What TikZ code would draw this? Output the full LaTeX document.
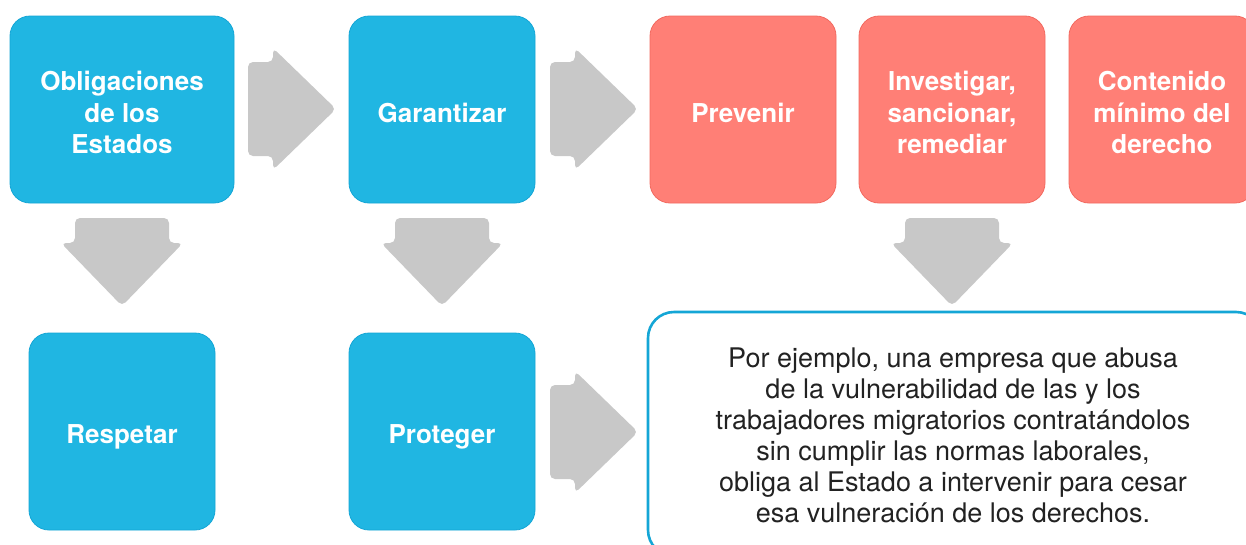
\documentclass[tikz,border=0pt]{standalone}
\usepackage{fontspec}
\setmainfont{TeX Gyre Heros}
\definecolor{bluefill}{HTML}{20B6E2}
\definecolor{blueline}{HTML}{14A6D6}
\definecolor{redfill}{HTML}{FF7F76}
\definecolor{redline}{HTML}{F26A60}
\definecolor{arrowgray}{HTML}{C8C8C8}
\definecolor{bodytext}{HTML}{222222}
\tikzset{
  box/.style={rounded corners=20pt, line width=0.8pt, inner sep=0pt},
  boxtext/.style={align=center, text=white, font=\fontsize{26}{31.5}\selectfont\bfseries,
    inner sep=0pt, yshift=-3pt},
  bluebox/.style={box, fill=bluefill, draw=blueline},
  redbox/.style={box, fill=redfill, draw=redline},
  notebox/.style={rounded corners=26pt, line width=2.6pt, draw=blueline, fill=white, inner sep=0pt},
  notetext/.style={align=center, text=bodytext, font=\fontsize{27}{31}\selectfont, inner sep=0pt},
  blockarrow/.style={fill=arrowgray, rounded corners=5pt},
}
\newcommand{\RightBlk}[2]{% x0, ymid
  \fill[blockarrow] (#1,#2-47) -- (#1+25,#2-47) -- (#1+25,#2-61) -- (#1+88,#2) -- (#1+25,#2+61) -- (#1+25,#2+47) -- (#1,#2+47) -- cycle;
}
\newcommand{\DownBlk}[2]{% xmid, y0
  \fill[blockarrow] (#1-47,#2) -- (#1+47,#2) -- (#1+47,#2+25) -- (#1+61,#2+25) -- (#1,#2+88) -- (#1-61,#2+25) -- (#1-47,#2+25) -- cycle;
}
\begin{document}
\begin{tikzpicture}[x=1pt, y=-1pt]
\useasboundingbox (0,0) rectangle (1246,544);
\clip (0,0) rectangle (1246,544);
\fill[white] (0,0) rectangle (1246,544);
% top row
\node[bluebox, minimum width=224pt, minimum height=187pt,
  label={[boxtext]center:{Obligaciones\\de los\\Estados}}] (obl) at (122,109.5) {};
\node[bluebox, minimum width=186pt, minimum height=187pt,
  label={[boxtext]center:{Garantizar}}] (gar) at (442,109.5) {};
\node[redbox, minimum width=186pt, minimum height=187pt,
  label={[boxtext]center:{Prevenir}}] (prev) at (743,109.5) {};
\node[redbox, minimum width=186pt, minimum height=187pt,
  label={[boxtext]center:{Investigar,\\sancionar,\\remediar}}] (inv) at (952,109.5) {};
\node[redbox, minimum width=186pt, minimum height=187pt,
  label={[boxtext]center:{Contenido\\mínimo del\\derecho}}] (cont) at (1162,109.5) {};
% bottom row
\node[bluebox, minimum width=186pt, minimum height=197pt,
  label={[boxtext, yshift=-2.5pt]center:{Respetar}}] (resp) at (122,431.5) {};
\node[bluebox, minimum width=186pt, minimum height=197pt,
  label={[boxtext, yshift=-2.5pt]center:{Proteger}}] (prot) at (442,431.5) {};
\node[notebox, minimum width=614pt, minimum height=244pt] (note) at (955,434) {};
\node[notetext] (notetext) at (953,435)
  {Por ejemplo, una empresa que abusa\\de la vulnerabilidad de las y los\\trabajadores migratorios contratándolos\\sin cumplir las normas laborales,\\obliga al Estado a intervenir para cesar\\esa vulneración de los derechos.};
% arrows
\RightBlk{248}{109}
\RightBlk{550}{109}
\RightBlk{550}{432}
\DownBlk{122}{218}
\DownBlk{442}{218}
\DownBlk{952}{218}
\end{tikzpicture}
\end{document}
